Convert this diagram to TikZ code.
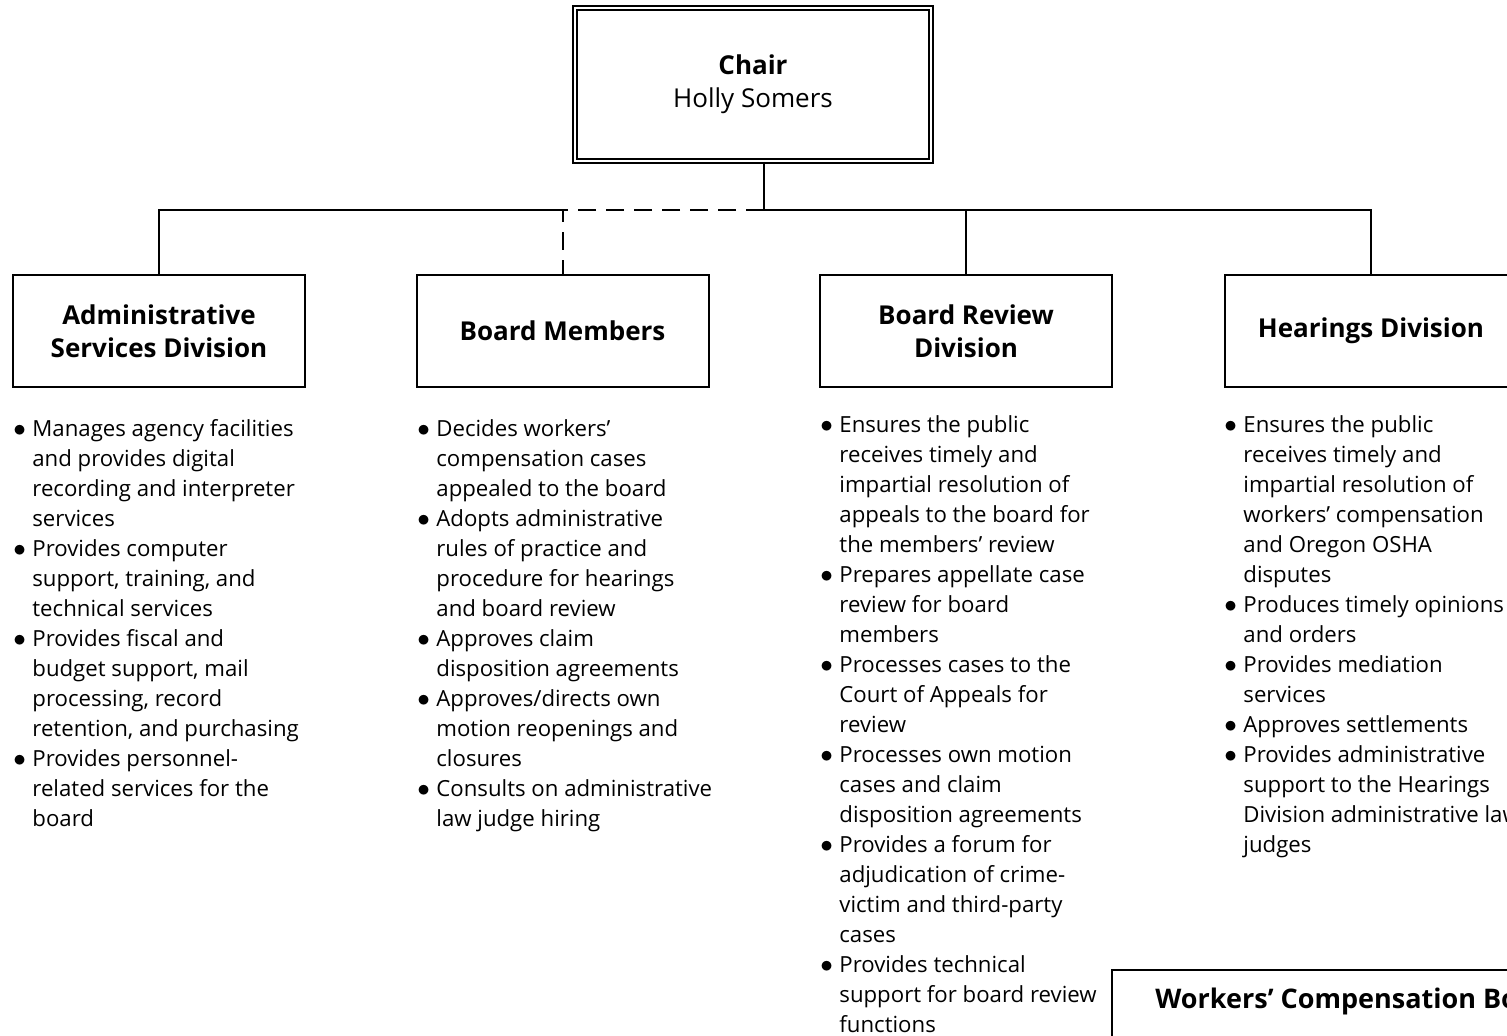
\documentclass[tikz,border=0pt]{standalone}
\usepackage{fontspec}
\setmainfont{Open Sans}
\usetikzlibrary{positioning}

\newcommand\listfont{\fontsize{11.1pt}{15pt}\selectfont}
\newcommand\headfont{\fontsize{13pt}{16.5pt}\selectfont}
\newcommand\bul{\makebox[9.5pt][l]{\raisebox{-0.2pt}{\scalebox{1.15}{$\bullet$}}}}
\newcommand\ind{\hspace*{9.5pt}}

\tikzset{
  divbox/.style={draw, line width=1pt, minimum width=146pt, minimum height=56pt,
    align=center, inner sep=2pt, font=\headfont\bfseries},
  items/.style={anchor=north west, inner sep=0pt, align=left, font=\listfont},
  conn/.style={line width=1pt},
}

\begin{document}
\begin{tikzpicture}[x=0.5pt, y=-0.5pt]
  \useasboundingbox (0,0) rectangle (1507,1036);
  \clip (0,0) rectangle (1507,1036);

  % top of the chart
  \node (chair) [draw, double, line width=0.9pt, double distance=1.3pt,
    minimum width=178pt, minimum height=76.5pt, align=center, font=\headfont]
    at (753,84.5) {\textbf{Chair}\\Holly Somers};

  % divisions
  \node (admin) [divbox] at (159,331) {Administrative\\Services Division};
  \node (board) [divbox] at (562.5,331) {Board Members};
  \node (rev) [divbox] at (966,331) {Board Review\\Division};
  \node (hear) [divbox] at (1371,331) {Hearings Division};

  \coordinate (hub) at (764,210);
  \draw[conn] (chair.south -| hub) -- (hub) -| (hear.north);
  \draw[conn] (hub -| rev.north) -- (rev.north);
  \draw[conn] (hub -| board.north) -| (admin.north);
  \draw[conn, dash pattern=on 9pt off 5pt] (hub) -| (board.north);

  % duties
  \node (admlist) [items] at (13,419) {%
    \bul Manages agency facilities\\
    \ind and provides digital\\
    \ind recording and interpreter\\
    \ind services\\
    \bul Provides computer\\
    \ind support, training, and\\
    \ind technical services\\
    \bul Provides fiscal and\\
    \ind budget support, mail\\
    \ind processing, record\\
    \ind retention, and purchasing\\
    \bul Provides personnel-\\
    \ind related services for the\\
    \ind board};

  \node (brdlist) [items] at (417,419) {%
    \bul Decides workers'\\
    \ind compensation cases\\
    \ind appealed to the board\\
    \bul Adopts administrative\\
    \ind rules of practice and\\
    \ind procedure for hearings\\
    \ind and board review\\
    \bul Approves claim\\
    \ind disposition agreements\\
    \bul Approves/directs own\\
    \ind motion reopenings and\\
    \ind closures\\
    \bul Consults on administrative\\
    \ind law judge hiring};

  \node (revlist) [items] at (820,415) {%
    \bul Ensures the public\\
    \ind receives timely and\\
    \ind impartial resolution of\\
    \ind appeals to the board for\\
    \ind the members' review\\
    \bul Prepares appellate case\\
    \ind review for board\\
    \ind members\\
    \bul Processes cases to the\\
    \ind Court of Appeals for\\
    \ind review\\
    \bul Processes own motion\\
    \ind cases and claim\\
    \ind disposition agreements\\
    \bul Provides a forum for\\
    \ind adjudication of crime-\\
    \ind victim and third-party\\
    \ind cases\\
    \bul Provides technical\\
    \ind support for board review\\
    \ind functions};

  \node (hrglist) [items] at (1224,415) {%
    \bul Ensures the public\\
    \ind receives timely and\\
    \ind impartial resolution of\\
    \ind workers' compensation\\
    \ind and Oregon OSHA\\
    \ind disputes\\
    \bul Produces timely opinions\\
    \ind and orders\\
    \bul Provides mediation\\
    \ind services\\
    \bul Approves settlements\\
    \bul Provides administrative\\
    \ind support to the Hearings\\
    \ind Division administrative law\\
    \ind judges};

  % board box at the bottom
  \draw[conn] (1112,1200) -- (1112,970) -- (1700,970);
  \node (wcb) [anchor=west, inner sep=0pt, font=\fontsize{13.5pt}{16pt}\selectfont\bfseries]
    at (1155,1001) {Workers' Compensation Board};
\end{tikzpicture}
\end{document}
